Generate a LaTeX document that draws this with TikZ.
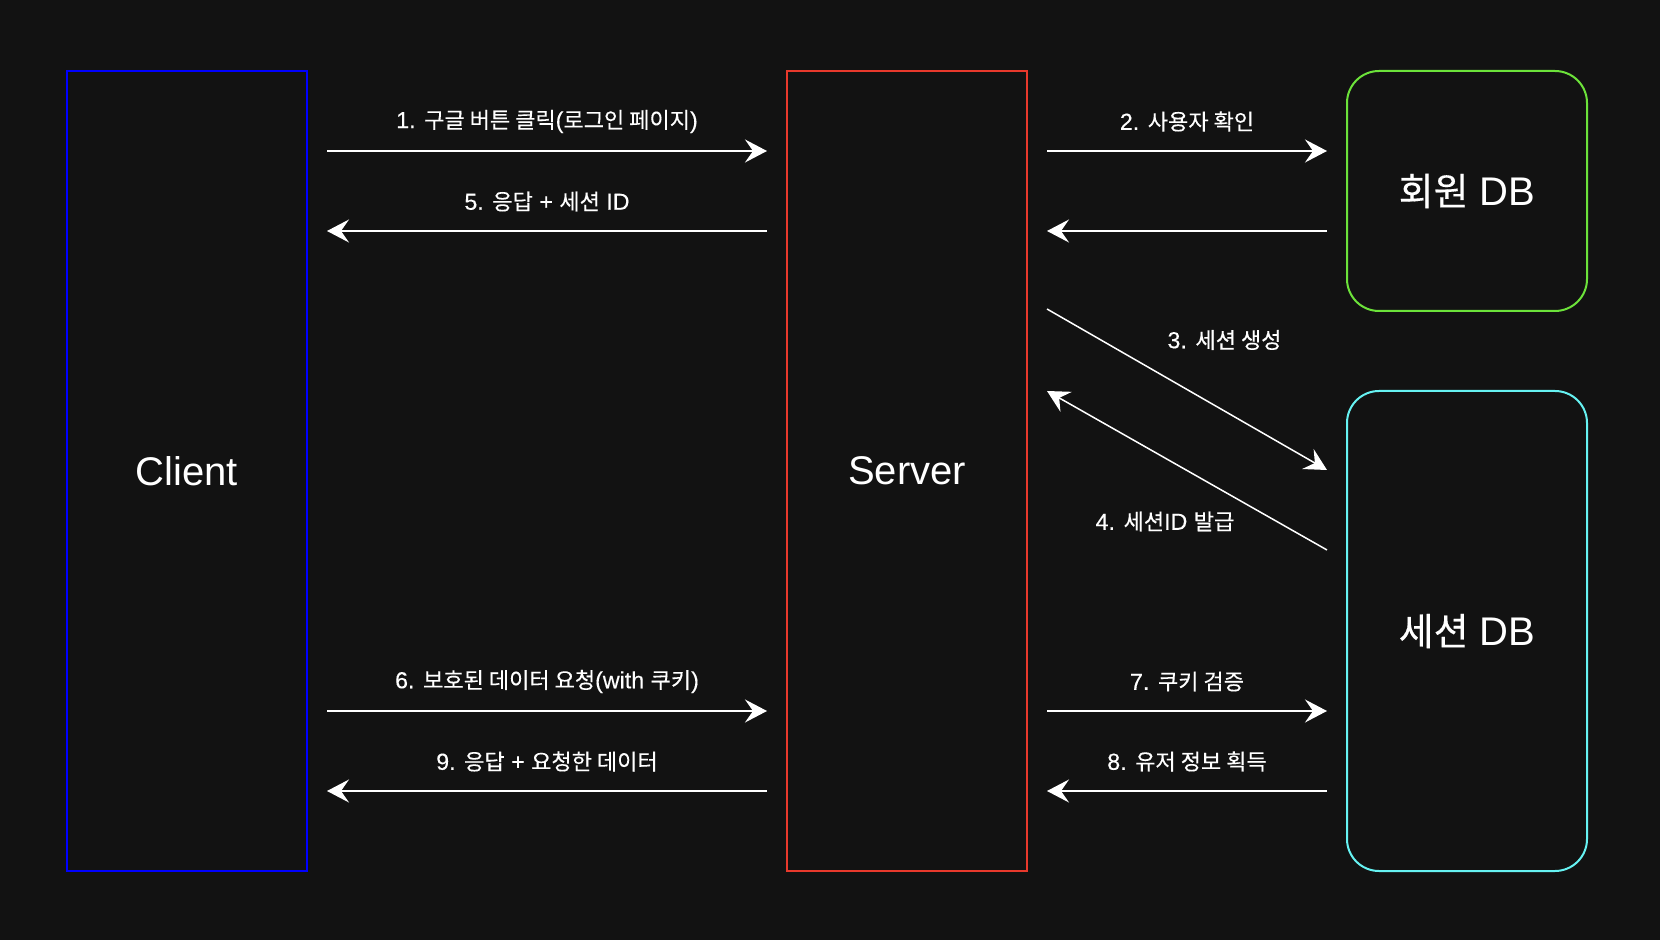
\documentclass[tikz,border=0pt]{standalone}
\usepackage{fontspec}
\setmainfont{Liberation Sans}
\newfontfamily\krfont[Scale=0.95,FakeBold=0.3]{Noto Sans CJK KR}
\newfontfamily\lblfont[FakeBold=0.3]{Liberation Sans}
\newcommand\K[1]{{\krfont #1}}
\usetikzlibrary{arrows.meta,calc}
\definecolor{bgcol}{HTML}{121212}
\definecolor{clientcol}{HTML}{0000FF}
\definecolor{servercol}{HTML}{E8392C}
\definecolor{userdbcol}{HTML}{6CE23A}
\definecolor{sessdbcol}{HTML}{66F2F2}
\tikzset{
  boxnode/.style={draw, line width=1pt, minimum width=120pt, inner sep=0pt, outer sep=0pt, text=white, font=\fontsize{20}{24}\selectfont},
  arr/.style={draw=white, line width=0.75pt, -{Stealth[length=11pt,width=11.5pt,inset=4pt]}},
  lbl/.style={text=white, font=\lblfont\fontsize{11.6}{14}\selectfont, inner sep=0pt}
}
\begin{document}
\begin{tikzpicture}[x=0.5pt,y=-0.5pt]
\fill[bgcol] (0,0) rectangle (1660,940);
\useasboundingbox (0,0) rectangle (1660,940);
\node[boxnode, draw=clientcol, minimum height=400pt] (client) at (187,471) {Client};
\node[boxnode, draw=servercol, minimum height=400pt] (server) at (907,471) {Server};
\node[boxnode, draw=userdbcol, minimum height=120pt, rounded corners=16pt] (udb) at (1467,191) {\K{회원} DB};
\node[boxnode, draw=sessdbcol, minimum height=240pt, rounded corners=16pt] (sdb) at (1467,631) {\K{세션} DB};

\draw[arr] ([shift={(10pt,-40pt)}]client.north east) -- ([shift={(-10pt,-40pt)}]server.north west)
  node[lbl, midway, yshift=14.75pt] (l1) {1. \K{구글 버튼 클릭}(\K{로그인 페이지})};
\draw[arr] ([shift={(-10pt,-80pt)}]server.north west) -- ([shift={(10pt,-80pt)}]client.north east)
  node[lbl, midway, yshift=14.75pt] (l5) {5. \K{응답} + \K{세션} ID};
\draw[arr] ([shift={(10pt,-40pt)}]server.north east) -- ([shift={(-10pt,-40pt)}]udb.north west)
  node[lbl, midway, yshift=14.75pt] (l2) {2. \K{사용자 확인}};
\draw[arr] ([shift={(-10pt,-80pt)}]udb.north west) -- ([shift={(10pt,-80pt)}]server.north east);
\draw[arr] ([shift={(10pt,-119pt)}]server.north east) -- ([shift={(-10pt,-39.5pt)}]sdb.north west)
  node[lbl, midway, xshift=18.75pt, yshift=24.75pt] (l3) {3. \K{세션 생성}};
\draw[arr] ([shift={(-10pt,-79.5pt)}]sdb.north west) -- ([shift={(10pt,-160pt)}]server.north east)
  node[lbl, midway, xshift=-11pt, yshift=-25.5pt] (l4) {4. \K{세션}ID \K{발급}};
\draw[arr] ([shift={(10pt,80pt)}]client.south east) -- ([shift={(-10pt,80pt)}]server.south west)
  node[lbl, midway, yshift=14.75pt] (l6) {6. \K{보호된 데이터 요청}(with \K{쿠키})};
\draw[arr] ([shift={(-10pt,40pt)}]server.south west) -- ([shift={(10pt,40pt)}]client.south east)
  node[lbl, midway, yshift=14.75pt] (l9) {9. \K{응답} + \K{요청한 데이터}};
\draw[arr] ([shift={(10pt,80pt)}]server.south east) -- ([shift={(-10pt,80pt)}]sdb.south west)
  node[lbl, midway, yshift=14.75pt] (l7) {7. \K{쿠키 검증}};
\draw[arr] ([shift={(-10pt,40pt)}]sdb.south west) -- ([shift={(10pt,40pt)}]server.south east)
  node[lbl, midway, yshift=14.75pt] (l8) {8. \K{유저 정보 획득}};
\end{tikzpicture}
\end{document}
